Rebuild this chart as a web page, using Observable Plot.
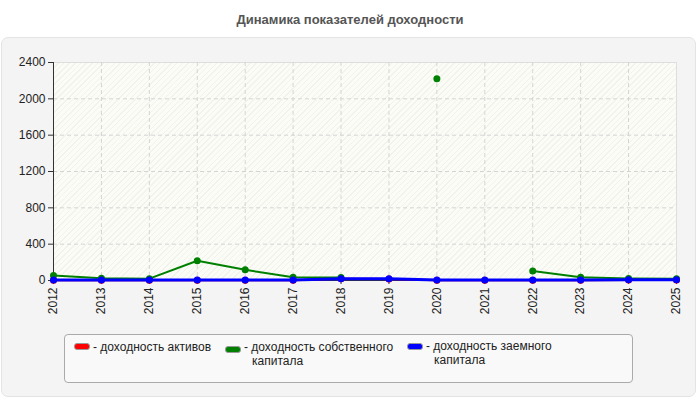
<!DOCTYPE html>
<html><head><meta charset="utf-8">
<script src="https://cdn.jsdelivr.net/npm/d3@7"></script>
<script src="https://cdn.jsdelivr.net/npm/@observablehq/plot@0.6"></script>
<style>
html,body{margin:0;padding:0;background:#fff;}
#wrap{position:relative;width:700px;height:400px;font-family:"Liberation Sans",Arial,sans-serif;overflow:hidden;}
#title{position:absolute;left:0;top:12px;width:700px;text-align:center;font-size:13px;font-weight:bold;color:#555;}
#panel{position:absolute;left:1px;top:37px;width:695px;height:360px;background:#f4f4f4;border:1px solid #e4e4e4;border-radius:7px;box-sizing:border-box;}
#bg{position:absolute;left:53px;top:62px;width:623px;height:218px;background-color:#fcfcf7;
 background-image:repeating-linear-gradient(135deg,rgba(225,225,218,0.35) 0px,rgba(225,225,218,0.35) 1px,transparent 1px,transparent 4px);}
#chart{position:absolute;left:0;top:0;}
#legend{position:absolute;left:64px;top:334px;width:569px;height:49px;background:#f9f9f9;border:1px solid #aaa;border-radius:4px;box-sizing:border-box;font-size:12px;color:#222;}
.line{position:absolute;line-height:12px;white-space:nowrap;}
.sw{position:absolute;width:16px;height:7px;border-radius:3px;border:1px solid #999;box-sizing:border-box;}
</style></head>
<body>
<div id="wrap">
<div id="title">Динамика показателей доходности</div>
<div id="panel"></div>
<div id="bg"></div>
<div id="chart"></div>
<div id="legend"></div>
</div>
<script>
const years = [2012,2013,2014,2015,2016,2017,2018,2019,2020,2021,2022,2023,2024,2025];
const yTicks = [0,400,800,1200,1600,2000,2400];
const roa = [4,4,4,4,4,4,18,16,4,4,4,4,6,6];
const roe = [55,25,20,217,118,36,32,null,2220,null,105,35,22,20];
const rod = [5,5,5,5,5,5,20,18,5,5,5,5,8,8];
const seriesNames = [["- доходность активов"],["- доходность собственного","капитала"],["- доходность заемного","капитала"]];
const seriesColors = ["#ff0000","#008000","#0000ff"];

const rows = [];
[roa,roe,rod].forEach((vals,si)=>{
  years.forEach((y,i)=>rows.push({year:y, value: vals[i]==null?NaN:vals[i], s:si}));
});
const bySeries = si => rows.filter(d=>d.s===si);

const chart = Plot.plot({
  width:700, height:400,
  marginLeft:53, marginRight:24, marginTop:62, marginBottom:120,
  style:{background:"transparent", fontFamily:"'Liberation Sans',Arial,sans-serif", fontSize:"12px", color:"#222"},
  x:{domain:[2012,2025]},
  y:{domain:[0,2400]},
  marks:[
    Plot.frame({stroke:"#dedede"}),
    Plot.gridX(years.slice(1,-1),{stroke:"#d4d4d4", strokeOpacity:1, strokeDasharray:"4,3"}),
    Plot.gridY(yTicks.slice(1,-1),{stroke:"#d4d4d4", strokeOpacity:1, strokeDasharray:"4,3"}),
    Plot.axisY({ticks:yTicks, tickFormat:d=>String(d), label:null, tickSize:5, tickPadding:3, stroke:"#333"}),
    Plot.axisX({ticks:years, tickFormat:d=>String(d), tickRotate:-90, label:null, tickSize:4, tickPadding:3, stroke:"#333"}),
    Plot.ruleX([2012],{stroke:"#333"}),
    Plot.ruleY([0],{stroke:"#333"}),
    ...[0,1,2].flatMap(si=>[
      Plot.line(bySeries(si),{x:"year", y:"value", stroke:seriesColors[si], strokeWidth: si===2?3:2}),
      Plot.dot(bySeries(si),{x:"year", y:"value", fill:seriesColors[si], r:3.5, stroke:null})
    ])
  ]
});
document.getElementById("chart").appendChild(chart);

const legend = document.getElementById("legend");
const pos = [[9,8,6],[160,11,6],[342,8,5]];
seriesNames.forEach((lines,i)=>{
  const sw = document.createElement("div");
  sw.className="sw"; sw.style.left=pos[i][0]+"px"; sw.style.top=pos[i][1]+"px"; sw.style.background=seriesColors[i];
  legend.appendChild(sw);
  lines.forEach((l,j)=>{
    const t = document.createElement("div");
    t.className="line";
    t.style.left=(pos[i][0]+19+(j?8:0))+"px";
    t.style.top=(pos[i][2]+j*14)+"px";
    t.textContent = l;
    legend.appendChild(t);
  });
});
</script>
</body></html>
